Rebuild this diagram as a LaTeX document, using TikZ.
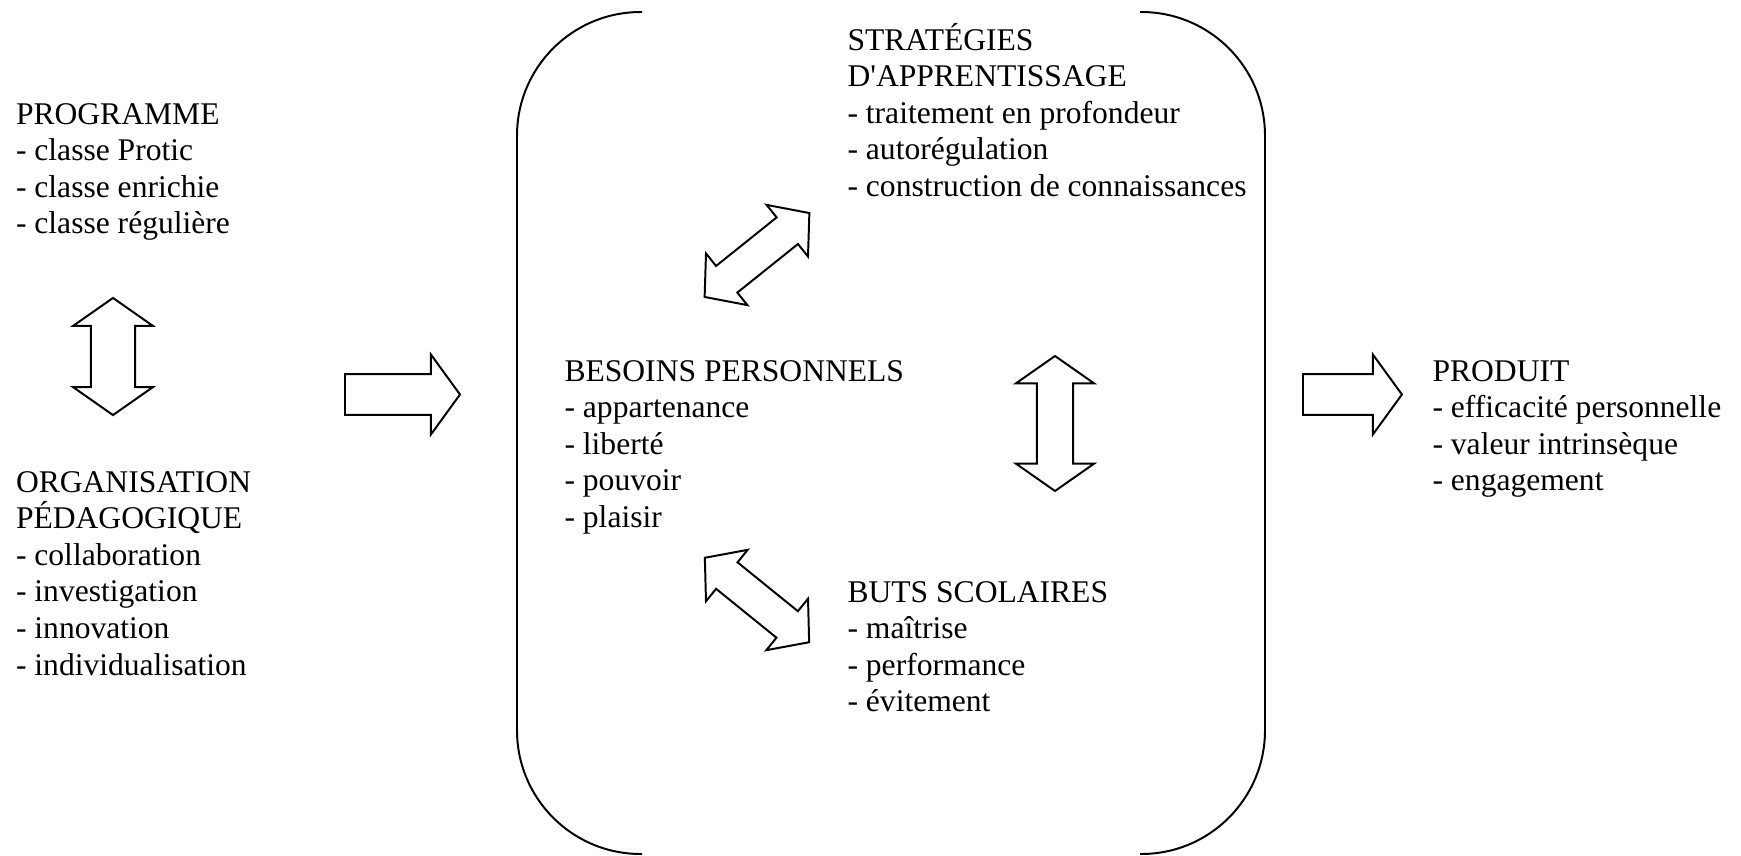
\documentclass[tikz,border=0pt]{standalone}
\usepackage{fontspec}
\setmainfont{Liberation Serif}
\usetikzlibrary{shapes.arrows}

\tikzset{
	txt/.style={anchor=base west, inner sep=0pt, align=left, font=\fontsize{12}{13.9}\selectfont},
	blk/.style={draw, line width=0.75pt, inner sep=0pt, minimum width=1pt},
	dblarrow/.style={blk, double arrow, double arrow tip angle=110, inner ysep=#1},
	sglarrow/.style={blk, single arrow, single arrow tip angle=108, inner ysep=#1, anchor=tail},
}

\begin{document}
\begin{tikzpicture}[x=0.38pt, y=-0.38pt]
	\useasboundingbox (0,0) rectangle (1741,856);

	% the big bracket round the centre
	\draw[line width=0.75pt, rounded corners=47pt] (642,12) -- (517,12) -- (517,854) -- (642,854);
	\draw[line width=0.75pt, rounded corners=47pt] (1140,12) -- (1265,12) -- (1265,854) -- (1140,854);

	% text blocks (placed by the baseline of their last line)
	\node[txt] (prog) at (15.5,233.8) {PROGRAMME\\- classe Protic\\- classe enrichie\\- classe régulière};
	\node[txt] (orga) at (15.5,675) {ORGANISATION\\PÉDAGOGIQUE\\- collaboration\\- investigation\\- innovation\\- individualisation};
	\node[txt] (strat) at (847,196.4) {STRATÉGIES\\D\textquotesingle APPRENTISSAGE\\- traitement en profondeur\\- autorégulation\\- construction de connaissances};
	\node[txt] (besoins) at (564,527.4) {BESOINS PERSONNELS\\- appartenance\\- liberté\\- pouvoir\\- plaisir};
	\node[txt] (buts) at (847,711.8) {BUTS SCOLAIRES\\- maîtrise\\- performance\\- évitement};
	\node[txt] (produit) at (1432,490.8) {PRODUIT\\- efficacité personnelle\\- valeur intrinsèque\\- engagement};

	% block arrows
	\node[dblarrow=8pt, double arrow head extend=6.8pt, minimum height=44.5pt, rotate=90] (progOrg) at (113,356.5) {};
	\node[sglarrow=7.4pt, single arrow head extend=7.4pt, minimum height=43.7pt] (toCentre) at (344,394.5) {};
	\node[sglarrow=7.4pt, single arrow head extend=7.4pt, minimum height=37.6pt] (toProduit) at (1302,394.5) {};
	\node[dblarrow=6.5pt, double arrow head extend=8pt, minimum height=51.3pt, rotate=90] (stratButs) at (1055,423.5) {};
	\node[dblarrow=6.1pt, double arrow head extend=6.1pt, double arrow tip angle=99, minimum height=51pt, rotate=38.7] (stratBesoins) at (757,255) {};
	\node[dblarrow=6.1pt, double arrow head extend=6.1pt, double arrow tip angle=99, minimum height=51pt, rotate=-39] (butsBesoins) at (757,600) {};

\end{tikzpicture}
\end{document}
